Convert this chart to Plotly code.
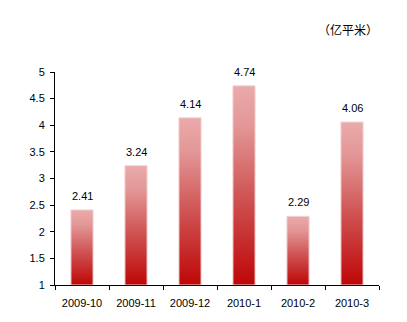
import plotly.graph_objects as go

# Monthly area figures (100 million m²)
months = ["2009-10", "2009-11", "2009-12", "2010-1", "2010-2", "2010-3"]
values = [2.41, 3.24, 4.14, 4.74, 2.29, 4.06]
y_ticks = [1, 1.5, 2, 2.5, 3, 3.5, 4, 4.5, 5]
y_tick_text = ["1", "1.5", "2", "2.5", "3", "3.5", "4", "4.5", "5"]

BASE = 1.0
HALF_W = 0.205
FONT = "Liberation Sans, Arial, sans-serif"
gradient = [[0.0, "#BE0606"], [0.45, "#D05555"], [0.8, "#E39797"], [1.0, "#EAAAAA"]]

fig = go.Figure()

# Each bar is a filled rectangle with its own vertical gradient
for i, v in enumerate(values):
    fig.add_trace(go.Scatter(
        x=[i - HALF_W, i + HALF_W, i + HALF_W, i - HALF_W, i - HALF_W],
        y=[BASE, BASE, v, v, BASE],
        mode="lines",
        line=dict(color="#F3D2D2", width=1),
        fill="toself",
        fillgradient=dict(type="vertical", colorscale=gradient),
        hoverinfo="skip",
        showlegend=False,
    ))
    fig.add_annotation(
        x=i, y=v, text=f"{v:.2f}", showarrow=False,
        yanchor="bottom", yshift=6,
        font=dict(family=FONT, size=11, color="#000000"),
    )

fig.add_annotation(
    xref="paper", yref="paper", x=1.0, y=1.0, yshift=43, xshift=1,
    text="（亿平米）", showarrow=False, xanchor="right", yanchor="middle",
    font=dict(family="Noto Sans CJK SC", size=12, color="#000000"),
)

fig.update_layout(
    width=407, height=322,
    margin=dict(l=55, r=28, t=72, b=37),
    plot_bgcolor="white", paper_bgcolor="white",
    xaxis=dict(
        range=[-0.5, len(months) - 0.5],
        tickvals=list(range(len(months))), ticktext=months,
        ticks="", showgrid=False, zeroline=False,
        showline=True, linecolor="#000000", linewidth=1,
        ticklabelstandoff=8,
        tickfont=dict(family=FONT, size=11, color="#000000"),
        minor=dict(tickvals=[k - 0.5 for k in range(len(months) + 1)],
                   ticks="outside", ticklen=4, tickcolor="#000000", showgrid=False),
    ),
    yaxis=dict(
        range=[1, 5], tickvals=y_ticks, ticktext=y_tick_text,
        ticks="outside", ticklen=4, tickcolor="#000000",
        showgrid=False, zeroline=False,
        showline=True, linecolor="#000000", linewidth=1,
        ticklabelstandoff=3,
        tickfont=dict(family=FONT, size=11, color="#000000"),
    ),
)

fig.write_html("out.html")
